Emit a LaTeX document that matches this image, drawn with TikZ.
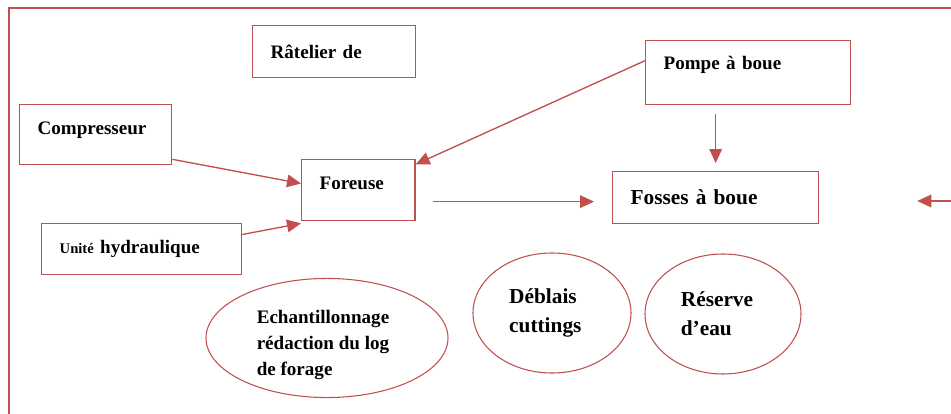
\documentclass[tikz,border=0pt]{standalone}
\usepackage{fontspec}
\setmainfont{Liberation Serif}
\usetikzlibrary{arrows.meta,shapes.geometric}
\definecolor{brick}{RGB}{192,80,77}

\begin{document}
\begin{tikzpicture}[x=0.75pt,y=-0.75pt,
    box/.style={draw=brick,line width=1pt,rectangle,anchor=north west,inner xsep=13.5pt,inner ysep=0pt,align=left,font=\bfseries\fontsize{14.3}{19.5}\selectfont},
    bulle/.style={draw=brick,line width=0.8pt,ellipse,inner sep=0pt,align=left,font=\bfseries\fontsize{14.3}{19.5}\selectfont},
    flow/.style={draw=brick,line width=1pt,-{Triangle[length=10.5pt,width=9.5pt]}}]
        \useasboundingbox (0,0) rectangle (951,414);
        % Draw the outer frame
        \draw[brick,line width=1.5pt] (9,414) -- (9,8) -- (951,8);
        % Draw the boxes
        \node[box,text width=95pt,minimum height=39pt] (ratelier) at (252,25) {R\^atelier de};
        \node[box,text width=87pt,minimum height=45pt,text depth=10pt] (compresseur) at (19,104) {Compresseur};
        \node[box,text width=58pt,minimum height=45.75pt,text depth=11pt] (foreuse) at (301,159) {Foreuse};
        \node[box,text width=123pt,minimum height=38.25pt] (unite) at (41,223) {{\fontsize{11}{13}\selectfont Unit\'e} hydraulique};
        \node[box,text width=126.75pt,minimum height=48pt,text depth=14pt] (pompe) at (645,40) {Pompe \`a boue};
        \node[box,text width=127.5pt,minimum height=39pt,font=\bfseries\fontsize{16}{21.75}\selectfont] (fosses) at (612,171) {Fosses \`a boue};
        % Draw the ellipses
        \node[bulle,minimum width=181.5pt,minimum height=88.5pt] (echant) at (327,338) {\rule{0pt}{21pt}Echantillonnage\hspace*{6pt}\\r\'edaction du log\\de forage};
        \node[bulle,minimum width=118.5pt,minimum height=90pt,font=\bfseries\fontsize{16}{21.75}\selectfont] (deblais) at (552,313) {D\'eblais\\cuttings\hspace*{10pt}};
        \node[bulle,minimum width=117pt,minimum height=90pt,font=\bfseries\fontsize{16}{21.75}\selectfont] (reserve) at (723,314) {R\'eserve\hspace*{9pt}\\d'eau};
        % Draw the arrows
        \draw[flow] ([yshift=4.5pt]compresseur.south east) -- ([yshift=5pt]foreuse.west);
        \draw[flow] ([yshift=11pt]unite.east) -- ([yshift=-1.5pt]foreuse.south west);
        \draw[flow] ([yshift=9pt]pompe.west) -- ([yshift=-4pt]foreuse.north east);
        \coordinate (sortie) at ([yshift=-8.6pt]foreuse.east);
        \draw[flow,shorten <=12.75pt,shorten >=13.5pt] (sortie) -- (sortie -| fosses.west);
        \draw[flow,shorten <=6.75pt,shorten >=6pt] (pompe.south -| fosses.north) -- (fosses.north);
        \coordinate (arrivee) at (951,201);
        \draw[flow,shorten >=73.5pt] (arrivee) -- (arrivee -| fosses.east);
    \end{tikzpicture}
\end{document}
